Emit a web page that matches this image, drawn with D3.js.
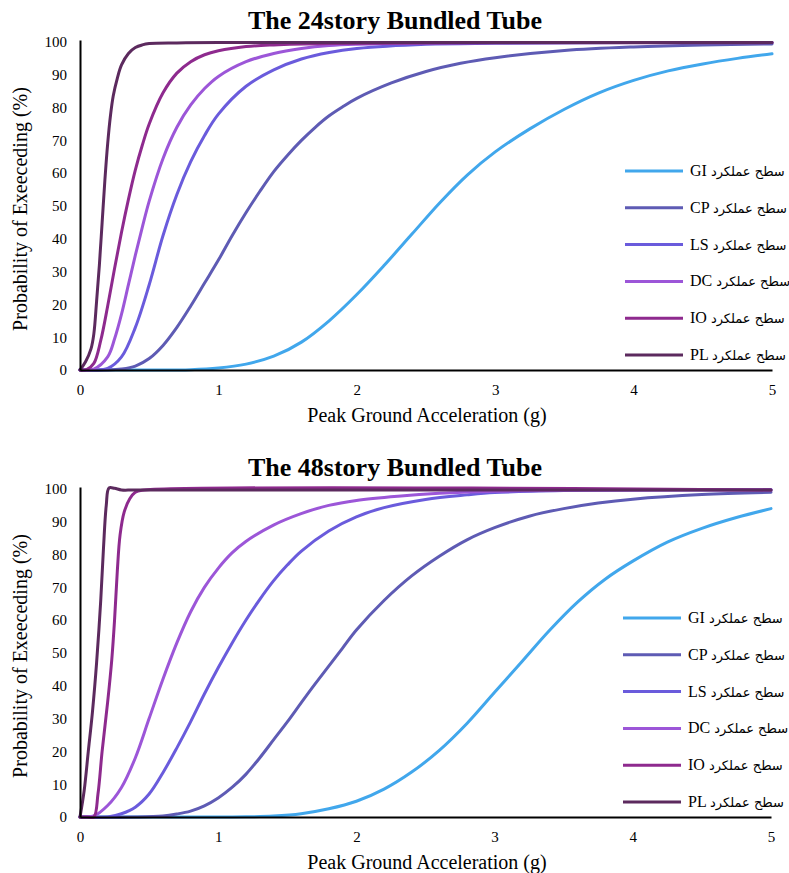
<!DOCTYPE html>
<html><head><meta charset="utf-8">
<script src="https://cdn.jsdelivr.net/npm/d3@7"></script>
<style>
html,body{margin:0;padding:0;background:#fff;}
svg{display:block;font-family:"Liberation Serif","Times New Roman",serif;}
</style></head>
<body>
<svg id="c" width="789" height="873"></svg>
<script>
// ---------- data ----------
const titles = ["The 24story Bundled Tube", "The 48story Bundled Tube"];
const xTicks = [0, 1, 2, 3, 4, 5];
const yTicks = [0, 10, 20, 30, 40, 50, 60, 70, 80, 90, 100];
const seriesNames = ["GI", "CP", "LS", "DC", "IO", "PL"];
const seriesColors = ["#41a7ec", "#5e5bb4", "#6a5bdc", "#9c56d8", "#8e2a8e", "#5c2a5e"];
const legendPrefix = "سطح عملکرد";

// 24-story: [PGA, probability %]
const gi24 = [[0,0],[0.5,0],[0.8,0.1],[1.0,0.6],[1.2,1.8],[1.4,4.2],[1.6,8.5],[1.8,15],[2.0,23],[2.2,32],[2.4,41.5],[2.6,51],[2.8,59.5],[3.0,66.5],[3.25,73.5],[3.5,79.5],[3.75,84.5],[4.0,88.3],[4.25,91.2],[4.5,93.3],[4.75,95],[5.0,96.4]];
const cp24 = [[0,0],[0.2,0],[0.3,0.3],[0.4,1.2],[0.5,3.5],[0.6,7.5],[0.7,13],[0.8,19.5],[0.9,26.5],[1.0,33.5],[1.1,41],[1.2,48],[1.3,54.5],[1.4,60.5],[1.5,65.5],[1.6,70],[1.7,74],[1.8,77.5],[1.9,80.3],[2.0,82.8],[2.25,87.5],[2.5,91],[2.75,93.5],[3.0,95.2],[3.5,97.4],[4.0,98.5],[4.5,99.1],[5.0,99.4]];
const ls24 = [[0,0],[0.1,0],[0.2,0.5],[0.3,4],[0.4,13],[0.5,26],[0.6,41],[0.7,53.5],[0.8,63.5],[0.9,71.5],[1.0,78],[1.2,86.5],[1.4,91.5],[1.6,94.8],[1.8,96.8],[2.0,98],[2.5,99.3],[3.0,99.6],[4.0,99.8],[5.0,99.8]];
const dc24 = [[0,0],[0.1,0.3],[0.2,4],[0.25,9.5],[0.3,17],[0.35,26],[0.4,35],[0.45,43.5],[0.5,51.5],[0.6,64.5],[0.7,74],[0.8,80.8],[0.9,85.8],[1.0,89.5],[1.2,94],[1.4,96.5],[1.6,98],[1.8,98.9],[2.0,99.3],[2.5,99.7],[3.0,99.8],[5.0,99.8]];
const io24 = [[0,0],[0.05,0.2],[0.1,2],[0.15,9],[0.2,19.5],[0.25,31],[0.3,42],[0.35,52],[0.4,61],[0.45,68.5],[0.5,75],[0.6,84.5],[0.7,90.5],[0.8,94],[0.9,96.1],[1.0,97.3],[1.2,98.6],[1.4,99.1],[1.8,99.5],[2.5,99.7],[5.0,99.8]];
const pl24 = [[0,0],[0.04,2.5],[0.08,6.5],[0.1,11],[0.12,21],[0.14,32],[0.16,45],[0.18,58],[0.2,69],[0.22,77.5],[0.24,83.5],[0.27,89],[0.3,93],[0.35,96.5],[0.4,98.3],[0.45,99.1],[0.5,99.5],[0.7,99.7],[1.0,99.8],[5.0,99.8]];

// 48-story
const gi48 = [[0,0],[1.0,0],[1.2,0.05],[1.4,0.3],[1.6,1],[1.8,2.5],[2.0,4.8],[2.2,8.5],[2.4,13.7],[2.6,20.3],[2.8,28.5],[3.0,38],[3.2,47.5],[3.4,57],[3.6,65.5],[3.8,72.5],[4.0,78],[4.25,83.8],[4.5,88],[4.75,91.3],[5.0,94]];
const cp48 = [[0,0],[0.4,0],[0.6,0.3],[0.7,0.9],[0.8,1.8],[0.9,3.4],[1.0,5.8],[1.1,9],[1.2,13],[1.3,18],[1.4,23.5],[1.5,29],[1.6,34.8],[1.7,40.5],[1.8,46],[1.9,51.5],[2.0,57],[2.2,66],[2.4,73.5],[2.6,79.5],[2.8,84.5],[3.0,88.2],[3.25,91.7],[3.5,94],[3.75,95.7],[4.0,96.9],[4.5,98.3],[5.0,99]];
const ls48 = [[0,0],[0.2,0],[0.3,1],[0.4,3],[0.5,7],[0.6,13.5],[0.7,21],[0.8,29],[0.9,37.5],[1.0,45.5],[1.1,53],[1.2,60],[1.3,66.3],[1.4,72],[1.5,76.8],[1.6,81],[1.8,87.2],[2.0,91.5],[2.2,94.3],[2.5,96.8],[2.8,98.2],[3.0,98.9],[3.5,99.5],[4.0,99.7],[5.0,99.8]];
const dc48 = [[0,0],[0.1,0.3],[0.2,3.5],[0.3,9],[0.4,18],[0.5,30],[0.6,42],[0.7,53],[0.8,62.5],[0.9,70],[1.0,75.8],[1.1,80.5],[1.2,84],[1.4,89],[1.6,92.5],[1.8,95],[2.0,96.5],[2.3,97.8],[2.6,98.7],[3.0,99.3],[3.5,99.6],[5.0,99.7]];
const io48 = [[0,0],[0.05,0],[0.1,0],[0.13,7],[0.16,20],[0.2,35],[0.23,48],[0.25,60],[0.27,75],[0.29,86],[0.32,93],[0.36,97],[0.4,99],[0.45,99.6],[5.0,99.7]];
const pl48 = [[0,0],[0.03,8],[0.06,20],[0.09,32],[0.12,47],[0.15,66],[0.17,82],[0.19,95],[0.21,100.3],[0.25,100.2],[0.3,99.7],[0.4,99.7],[5.0,99.7]];

const panelSeries = [[gi24, cp24, ls24, dc24, io24, pl24], [gi48, cp48, ls48, dc48, io48, pl48]];

// ---------- layout ----------
const panels = [
  {left: 80, right: 772, top: 40, bottom: 370, titleY: 29, xTitleY: 422, legX: 625, legY: 171},
  {left: 80, right: 771, top: 487, bottom: 817, titleY: 476, xTitleY: 869, legX: 623, legY: 618}
];
const legStep = 36.8;

const svg = d3.select("#c");

panels.forEach((p, pi) => {
  const x = d3.scaleLinear().domain([0, 5]).range([p.left, p.right]);
  const y = d3.scaleLinear().domain([0, 100.6]).range([p.bottom, p.top]);
  const g = svg.append("g");

  g.append("text").attr("x", 395).attr("y", p.titleY)
    .attr("text-anchor", "middle").attr("font-weight", "bold")
    .attr("font-size", 26).attr("fill", "#000").text(titles[pi]);

  const line = d3.line().x(d => x(d[0])).y(d => y(d[1])).curve(d3.curveCatmullRom.alpha(0.5));
  panelSeries[pi].forEach((s, i) => {
    g.append("path").datum(s).attr("d", line).attr("fill", "none")
      .attr("stroke", seriesColors[i]).attr("stroke-width", 3)
      .attr("stroke-linejoin", "round").attr("stroke-linecap", "round");
  });

  const ax = g.append("g").attr("transform", `translate(0,${p.bottom})`)
    .call(d3.axisBottom(x).tickValues(xTicks).tickSize(0).tickPadding(14).tickFormat(d3.format("d")));
  const ay = g.append("g").attr("transform", `translate(${p.left},0)`)
    .call(d3.axisLeft(y).tickValues(yTicks).tickSize(0).tickPadding(13).tickFormat(d3.format("d")));
  [ax, ay].forEach(a => {
    a.select(".domain").attr("stroke", "#000").attr("stroke-width", 2);
    a.selectAll("text").attr("font-family", "Liberation Serif, Times New Roman, serif")
      .attr("font-size", 15).attr("fill", "#000");
  });

  g.append("text").attr("x", 427).attr("y", p.xTitleY).attr("text-anchor", "middle")
    .attr("font-size", 20).attr("fill", "#000").text("Peak Ground Acceleration (g)");
  g.append("text").attr("transform", `translate(27,${(p.top + p.bottom) / 2 + 4}) rotate(-90)`)
    .attr("text-anchor", "middle").attr("font-size", 20).attr("fill", "#000")
    .text("Probability of Exeeceding (%)");

  seriesNames.forEach((n, i) => {
    const ly = p.legY + i * legStep;
    g.append("line").attr("x1", p.legX).attr("x2", p.legX + 58).attr("y1", ly).attr("y2", ly)
      .attr("stroke", seriesColors[i]).attr("stroke-width", 3);
    const t = g.append("text").attr("x", p.legX + 65).attr("y", ly + 5)
      .attr("font-size", 16).attr("fill", "#000");
    t.append("tspan").text(n + " ");
    t.append("tspan").attr("font-size", 13).attr("font-family", "DejaVu Sans, sans-serif").text(legendPrefix);
  });
});
</script>
</body></html>
